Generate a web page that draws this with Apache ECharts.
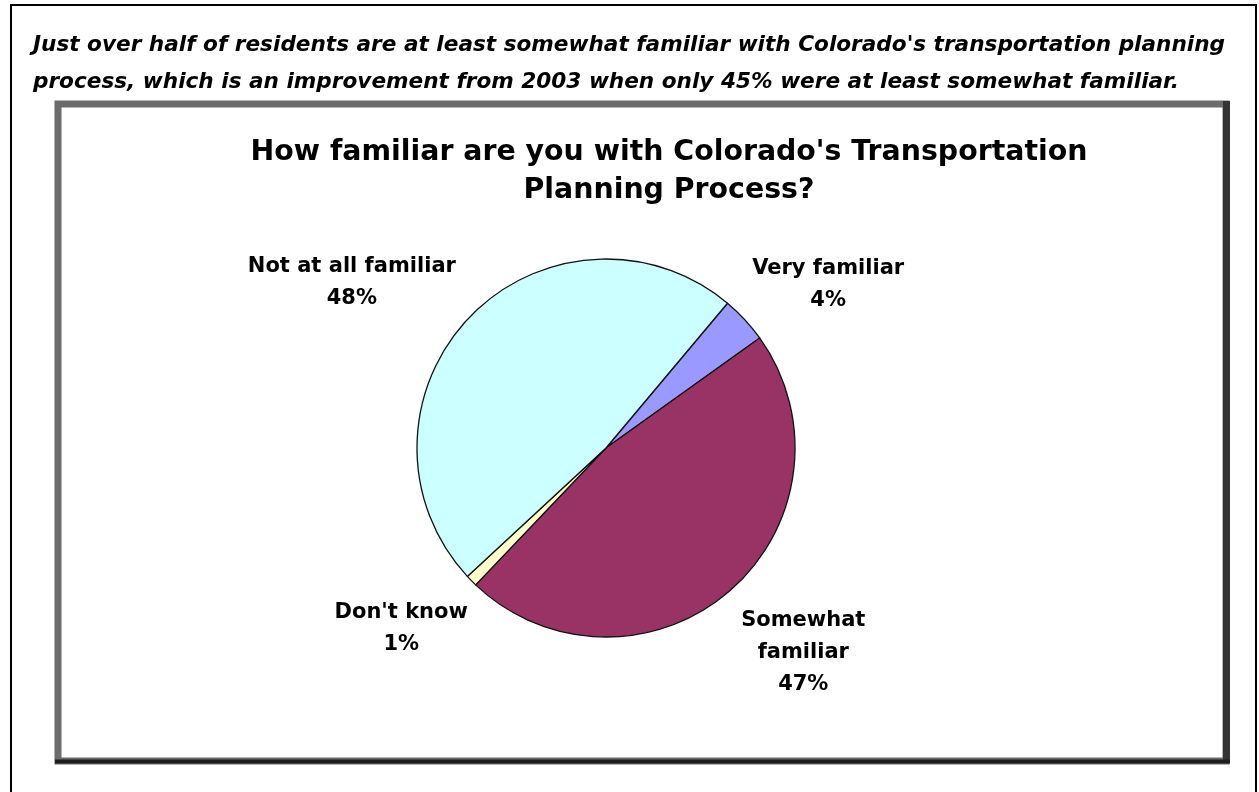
<!DOCTYPE html>
<html lang="en">

<head>
  <meta charset="UTF-8">
  <script type="text/javascript" src="https://cdn.jsdelivr.net/npm/echarts@6/dist/echarts.min.js"></script>
  <title>Colorado transportation planning</title>
  <style>
    html, body {
      margin: 0;
      padding: 0;
      background: #fff;
    }

    #chart {
      width: 1259px;
      height: 792px;
    }
  </style>
</head>

<body>
  <div id="chart"></div>
  <script>
    // 数据
    const categories = ['Very familiar', 'Somewhat\nfamiliar', "Don't know", 'Not at all familiar'];
    const percents = [4, 47, 1, 48];
    const colors = ['#9999FF', '#993366', '#FFFFCC', '#CCFFFF'];

    const noteLines = [
      "Just over half of residents are at least somewhat familiar with Colorado's transportation planning",
      'process, which is an improvement from 2003 when only 45% were at least somewhat familiar.'
    ];
    const chartTitle = "How familiar are you with Colorado's Transportation\nPlanning Process?";

    // 饼图位置
    const CX = 606, CY = 448, R = 189;
    const START = 50;
    const labelGap = [87, 95, 84, 114];   // 标签离圆边的距离
    const labelTurn = [-6.4, 3, -3.2, 10.6]; // 标签角度微调

    const total = percents.reduce((a, b) => a + b, 0);
    function midAngle(i) {
      let before = 0;
      for (let k = 0; k < i; k++) before += percents[k];
      const mid = before + percents[i] / 2;
      return (START - mid / total * 360 + labelTurn[i]) * Math.PI / 180;
    }

    const font = 'DejaVu Sans';

    const chart = echarts.init(document.getElementById('chart'));
    chart.setOption({
      animation: false,
      title: {
        text: chartTitle,
        left: 664,
        top: 129,
        textAlign: 'center',
        textStyle: {
          fontFamily: font,
          fontWeight: 'bold',
          fontSize: 28.4,
          lineHeight: 38,
          color: '#000'
        }
      },
      graphic: [
        // 外框
        {
          type: 'rect',
          shape: { x: 11, y: 5, width: 1245, height: 800 },
          style: { fill: null, stroke: '#000', lineWidth: 2 }
        },
        // 说明文字
        {
          type: 'text',
          left: 33,
          top: 27,
          style: {
            text: noteLines.join('\n'),
            font: 'italic bold 21.6px "DejaVu Sans"',
            lineHeight: 37,
            fill: '#000'
          }
        },
        // 图表区边框
        {
          type: 'rect',
          shape: { x: 58, y: 104, width: 1168, height: 657 },
          style: { fill: null, stroke: '#6b6b6b', lineWidth: 7 }
        },
        {
          type: 'line',
          shape: { x1: 1226.5, y1: 101, x2: 1226.5, y2: 763 },
          style: { stroke: '#333', lineWidth: 7 }
        },
        {
          type: 'line',
          shape: { x1: 55, y1: 761.5, x2: 1230, y2: 761.5 },
          style: { stroke: '#1e1e1e', lineWidth: 4 }
        }
      ],
      series: [
        {
          type: 'pie',
          center: [CX, CY],
          radius: R,
          startAngle: START,
          clockwise: true,
          avoidLabelOverlap: false,
          itemStyle: {
            borderColor: '#111',
            borderWidth: 1.3
          },
          label: {
            show: true,
            position: 'outside',
            formatter: p => p.name + '\n' + p.value + '%',
            fontFamily: font,
            fontWeight: 'bold',
            fontSize: 21,
            lineHeight: 32,
            color: '#000'
          },
          labelLine: { show: false },
          labelLayout: function (params) {
            const i = params.dataIndex;
            const a = midAngle(i);
            const d = R + labelGap[i];
            return {
              x: CX + d * Math.cos(a),
              y: CY - d * Math.sin(a),
              align: 'center',
              verticalAlign: 'middle'
            };
          },
          data: categories.map((c, i) => ({
            name: c,
            value: percents[i],
            itemStyle: { color: colors[i] }
          }))
        }
      ]
    });
  </script>
</body>

</html>
